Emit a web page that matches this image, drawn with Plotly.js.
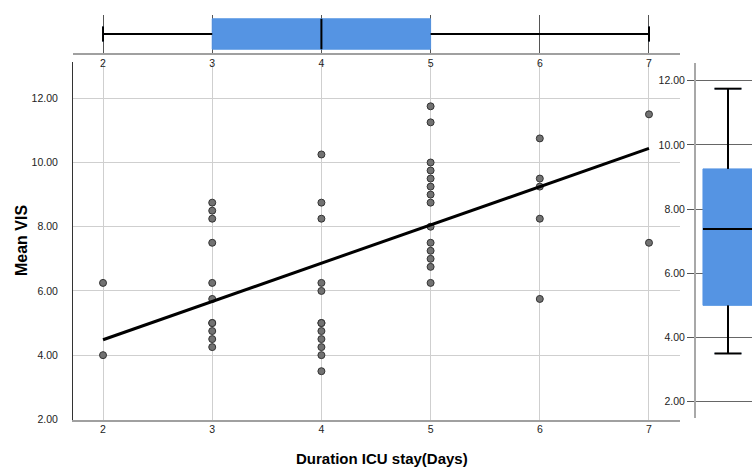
<!DOCTYPE html>
<html>
<head>
<meta charset="utf-8">
<script src="https://cdn.plot.ly/plotly-3.0.1.min.js"></script>
<style>html,body{margin:0;padding:0;background:#fff;}#chart{width:752px;height:469px;}</style>
</head>
<body>
<div id="chart"></div>
<script>
// ---- data ----
const icuStay = [2,2,
  3,3,3,3,3,3,3,3,3,3,3,
  4,4,4,4,4,4,4,4,4,4,4,4,
  5,5,5,5,5,5,5,5,5,5,5,5,5,5,
  6,6,6,6,6,
  7,7];
const meanVIS = [6.25,4.00,
  8.75,8.50,8.25,7.50,6.25,5.75,5.00,5.00,4.75,4.50,4.25,
  10.25,8.75,8.25,6.25,6.00,5.00,5.00,4.75,4.50,4.25,4.00,3.50,
  11.75,11.25,10.00,9.75,9.50,9.25,9.00,8.75,8.00,7.50,7.25,7.00,6.75,6.25,
  10.75,9.50,9.25,8.25,5.75,
  11.50,7.50];
// box statistics [min, q1, median, q3, max]
const durationStats = [2, 3, 4, 5, 7];
const visStats = [3.50, 5.00, 7.375, 9.25, 11.75];
// fitted line end points
const fitX = [2, 7];
const fitY = [4.48, 10.44];
const xTicks = [2, 3, 4, 5, 6, 7];
const yTicks = [2, 4, 6, 8, 10, 12];
const xTitle = 'Duration ICU stay(Days)';
const yTitle = 'Mean VIS';

// ---- geometry helpers ----
const W = 752, H = 469;
const fx = p => p / W;
const fy = p => (H - p) / H;
const FONT = 'Liberation Sans, Arial, sans-serif';
const BLUE = '#5594E3';

const topBoxY = 0.5, topBoxW = 0.8, topCap = 0.2;
const rBoxX = 0.571, rBoxW = 0.893, rCap = 0.241;

const traces = [];
// main scatter
traces.push({type:'scatter', mode:'markers', x: icuStay, y: meanVIS, xaxis:'x', yaxis:'y',
  marker:{size:7, color:'#727272', line:{color:'#333333', width:1}}, hoverinfo:'x+y'});
// fit line
traces.push({type:'scatter', mode:'lines', x: fitX, y: fitY, xaxis:'x', yaxis:'y',
  line:{color:'#000', width:3}});

// top box (horizontal)
traces.push({type:'box', orientation:'h', xaxis:'x2', yaxis:'y2', y:[topBoxY],
  lowerfence:[durationStats[0]], q1:[durationStats[1]], median:[durationStats[2]],
  q3:[durationStats[3]], upperfence:[durationStats[4]], width: topBoxW, whiskerwidth: 0.5,
  fillcolor: BLUE, line:{color: BLUE, width:1}, boxpoints:false, hoverinfo:'skip'});
const dS = durationStats;
const topLines = [
  {x:[dS[0], dS[1]], y:[topBoxY, topBoxY]},
  {x:[dS[3], dS[4]], y:[topBoxY, topBoxY]},
  {x:[dS[0], dS[0]], y:[topBoxY-topCap, topBoxY+topCap]},
  {x:[dS[4], dS[4]], y:[topBoxY-topCap, topBoxY+topCap]},
  {x:[dS[2], dS[2]], y:[topBoxY-topBoxW/2, topBoxY+topBoxW/2]}
];
topLines.forEach(l => traces.push({type:'scatter', mode:'lines', x:l.x, y:l.y, xaxis:'x2', yaxis:'y2',
  line:{color:'#000', width:2}, hoverinfo:'skip'}));

// right box (vertical)
traces.push({type:'box', xaxis:'x3', yaxis:'y3', x:[rBoxX],
  lowerfence:[visStats[0]], q1:[visStats[1]], median:[visStats[2]],
  q3:[visStats[3]], upperfence:[visStats[4]], width: rBoxW, whiskerwidth: 0.54,
  fillcolor: BLUE, line:{color: BLUE, width:1}, boxpoints:false, hoverinfo:'skip'});
const vS = visStats;
const rLines = [
  {y:[vS[0], vS[1]], x:[rBoxX, rBoxX]},
  {y:[vS[3], vS[4]], x:[rBoxX, rBoxX]},
  {y:[vS[0], vS[0]], x:[rBoxX-rCap, rBoxX+rCap]},
  {y:[vS[4], vS[4]], x:[rBoxX-rCap, rBoxX+rCap]},
  {y:[vS[2], vS[2]], x:[rBoxX-rBoxW/2, rBoxX+rBoxW/2]}
];
rLines.forEach(l => traces.push({type:'scatter', mode:'lines', x:l.x, y:l.y, xaxis:'x3', yaxis:'y3',
  line:{color:'#000', width:2}, hoverinfo:'skip'}));

const tickFont = {family: FONT, size: 10.5, color: '#222222'};
const layout = {
  width: W, height: H, margin:{l:0, r:0, t:0, b:0},
  paper_bgcolor:'#fff', plot_bgcolor:'rgba(0,0,0,0)', showlegend:false,
  font: {family: FONT, color:'#222222'},
  xaxis: {domain:[fx(73), fx(680)], range:[1.725, 7.284], anchor:'y',
    tickvals: xTicks, ticktext: xTicks.map(String), tickfont: tickFont,
    ticks:'', ticklabelstandoff: -2,
    showgrid:true, gridcolor:'#cfcfcf', gridwidth:1, zeroline:false,
    showline:true, linecolor:'#a0a0a0', linewidth:2},
  yaxis: {domain:[fy(420), fy(62)], range:[1.98, 13.13], anchor:'x',
    tickvals: yTicks, ticktext: yTicks.map(v => v.toFixed(2)), tickfont: tickFont,
    ticks:'outside', ticklen:12, tickcolor:'rgba(0,0,0,0)',
    showgrid:true, gridcolor:'#cfcfcf', gridwidth:1, zeroline:false,
    showline:true, linecolor:'#333', linewidth:1},
  xaxis2: {domain:[fx(73), fx(680)], range:[1.725, 7.284], anchor:'y2',
    tickvals: xTicks, ticktext: xTicks.map(String), tickfont: tickFont,
    ticks:'', ticklabelstandoff: -1,
    showgrid:true, gridcolor:'#555', gridwidth:1, zeroline:false,
    showline:true, linecolor:'#a0a0a0', linewidth:2},
  yaxis2: {domain:[fy(53), fy(15)], range:[0, 1], anchor:'x2',
    showticklabels:false, showgrid:false, zeroline:false, showline:false},
  xaxis3: {domain:[fx(696), 1], range:[0, 1], anchor:'y3',
    showticklabels:false, showgrid:false, zeroline:false, showline:false},
  yaxis3: {domain:[fy(418), fy(63)], range:[1.49, 12.55], anchor:'x3',
    tickvals: yTicks, ticktext: yTicks.map(v => v.toFixed(2)), tickfont: tickFont,
    ticks:'outside', ticklen:7, tickcolor:'#555',
    showgrid:true, gridcolor:'#666', gridwidth:1, zeroline:false,
    showline:true, linecolor:'#a8a8a8', linewidth:2},
  annotations: [
    {text: yTitle, xref:'paper', yref:'paper', x: fx(22), y: fy(241), textangle:-90,
      showarrow:false, font:{family: FONT, size:16, color:'#000', weight:'bold'}, xanchor:'center', yanchor:'middle'},
    {text: xTitle, xref:'paper', yref:'paper', x: fx(382), y: fy(458),
      showarrow:false, font:{family: FONT, size:15, color:'#000', weight:'bold'}, xanchor:'center', yanchor:'middle'}
  ]
};
Plotly.newPlot('chart', traces, layout, {staticPlot:true, displayModeBar:false});
</script>
</body>
</html>
